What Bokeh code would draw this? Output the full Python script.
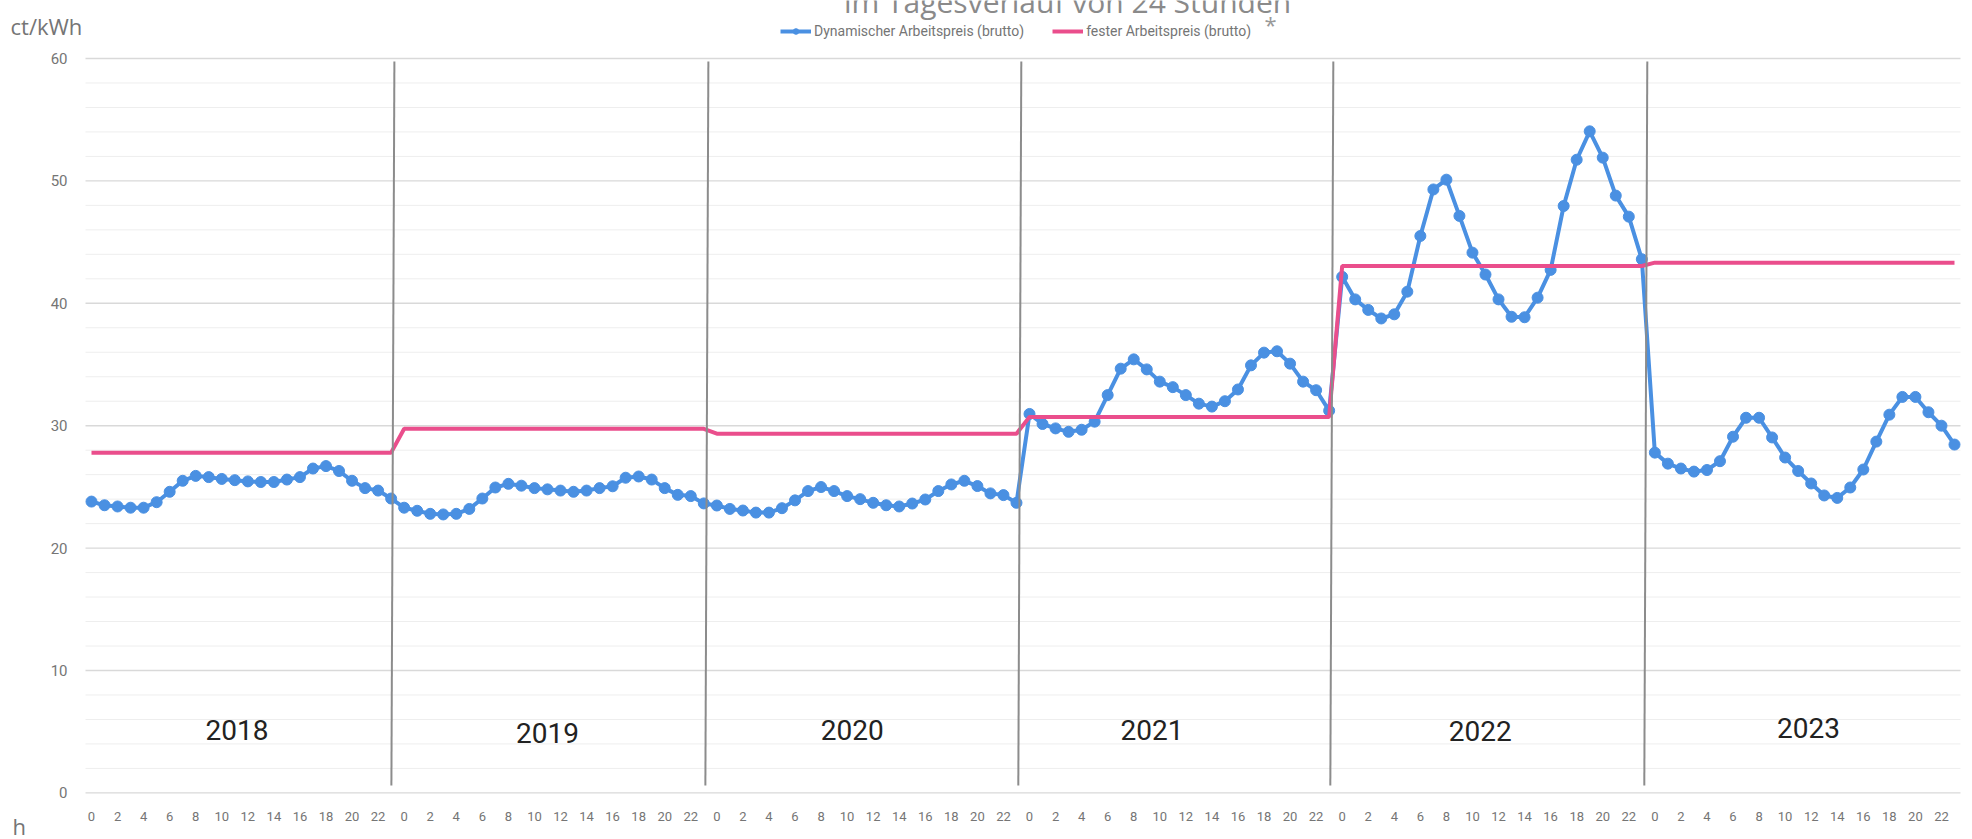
from bokeh.plotting import figure
from bokeh.models import Range1d, FixedTicker, Label, Legend, LegendItem, ColumnDataSource
from bokeh.embed import file_html
from bokeh.resources import INLINE
from bokeh.core.properties import value

# ---------------- data ----------------
years = ["2018", "2019", "2020", "2021", "2022", "2023"]
hour_labels = [str(h) for h in range(0, 24, 2)]
y_ticks = [0, 10, 20, 30, 40, 50, 60]

dyn_2018 = [23.8, 23.5, 23.4, 23.3, 23.3, 23.75, 24.6, 25.5, 25.9, 25.8, 25.65, 25.55,
            25.45, 25.4, 25.4, 25.6, 25.8, 26.5, 26.7, 26.3, 25.5, 24.9, 24.7, 24.05]
dyn_2019 = [23.3, 23.05, 22.8, 22.75, 22.8, 23.2, 24.05, 24.95, 25.25, 25.1, 24.9, 24.8,
            24.7, 24.6, 24.7, 24.9, 25.05, 25.75, 25.85, 25.6, 24.9, 24.35, 24.25, 23.65]
dyn_2020 = [23.48, 23.2, 23.07, 22.9, 22.9, 23.26, 23.9, 24.66, 24.99, 24.66, 24.25, 24.0,
            23.7, 23.5, 23.4, 23.64, 23.97, 24.66, 25.2, 25.5, 25.07, 24.47, 24.33, 23.7]
dyn_2021 = [30.96, 30.14, 29.78, 29.5, 29.67, 30.33, 32.5, 34.66, 35.42, 34.6, 33.6, 33.15,
            32.5, 31.8, 31.56, 32.0, 32.96, 34.93, 35.97, 36.08, 35.07, 33.6, 32.9, 31.23]
dyn_2022 = [42.16, 40.32, 39.46, 38.76, 39.1, 40.95, 45.5, 49.3, 50.1, 47.14, 44.14, 42.35,
            40.32, 38.9, 38.86, 40.46, 42.73, 47.95, 51.73, 54.05, 51.9, 48.8, 47.08, 43.6]
dyn_2023 = [27.8, 26.9, 26.5, 26.25, 26.38, 27.1, 29.1, 30.65, 30.65, 29.04, 27.4, 26.3,
            25.28, 24.3, 24.1, 24.95, 26.42, 28.7, 30.9, 32.35, 32.35, 31.1, 30.0, 28.46]
fixed_price = [27.8, 29.75, 29.35, 30.72, 43.05, 43.32]   # flat per year

# ---------------- layout ----------------
W, H = 1972, 839
PXU = 13.028          # px per hour
PYU = 12.24           # px per ct/kWh
AREA_L_PX = 85        # left edge of the plotting area (px)
ZERO_PX = 792.4       # vertical position of the 0 line (px)
X0 = -0.46            # data x at left edge of plotting area
X1 = 143.46           # data x at right edge of plotting area

def xd(px):
    return X0 + (px - AREA_L_PX) / PXU

def yd(py):
    return (ZERO_PX - py) / PYU

dyn_years = [dyn_2018, dyn_2019, dyn_2020, dyn_2021, dyn_2022, dyn_2023]
xs, dyn, fix = [], [], []
for k, (vals, fp) in enumerate(zip(dyn_years, fixed_price)):
    for h, v in enumerate(vals):
        xs.append(k * 24 + h)
        dyn.append(v)
        fix.append(fp)
src = ColumnDataSource(dict(x=xs, dyn=dyn, fix=fix))

BLUE = "#4A90E2"
PINK = "#EA4E8C"
GRAY_TXT = "#757575"

p = figure(width=W, height=H, output_backend="svg", toolbar_location=None,
           x_range=Range1d(xd(0), xd(W)), y_range=Range1d(yd(H), yd(0)),
           min_border_left=0, min_border_right=0, min_border_top=0, min_border_bottom=0)
p.outline_line_color = None
p.background_fill_color = "white"
p.border_fill_color = "white"
p.xgrid.visible = False
p.ygrid.visible = False

# axes drawn at fixed positions inside the canvas
p.yaxis.fixed_location = X0
p.yaxis.ticker = FixedTicker(ticks=y_ticks)
p.yaxis.axis_line_color = None
p.yaxis.major_tick_line_color = None
p.yaxis.minor_tick_line_color = None
p.yaxis.major_label_standoff = 12
p.yaxis.major_label_text_font = "Roboto"
p.yaxis.major_label_text_font_size = "15px"
p.yaxis.major_label_text_color = GRAY_TXT

xticks = list(range(0, len(xs), 2))
p.xaxis.fixed_location = 0
p.xaxis.ticker = FixedTicker(ticks=xticks)
p.xaxis.major_label_overrides = {i: hour_labels[(i % 24) // 2] for i in xticks}
p.xaxis.axis_line_color = None
p.xaxis.major_tick_line_color = None
p.xaxis.minor_tick_line_color = None
p.xaxis.major_label_standoff = 13
p.xaxis.major_label_text_font = "Roboto"
p.xaxis.major_label_text_font_size = "13px"
p.xaxis.major_label_text_color = GRAY_TXT

# horizontal grid lines across the plotting area only
minor_y = [v for v in range(0, 61, 2) if v % 10 != 0]
p.segment(x0=[X0] * len(minor_y), x1=[X1] * len(minor_y), y0=minor_y, y1=minor_y,
          line_color="#eeeeee", line_width=1)
p.segment(x0=[X0] * len(y_ticks), x1=[X1] * len(y_ticks), y0=y_ticks, y1=y_ticks,
          line_color="#d9d9d9", line_width=1.4)

# series
dyn_line = p.line("x", "dyn", source=src, line_color=BLUE, line_width=4)
dyn_pts = p.scatter("x", "dyn", source=src, size=11, fill_color=BLUE, line_color=BLUE)
fix_line = p.line("x", "fix", source=src, line_color=PINK, line_width=4)

# year separators (slightly tilted, hand drawn in original)
sep_offsets = [0.02, 0.12, 0.14, 0.09, 0.19]
sep_x0 = [(k + 1) * 24 - 1 + d for k, d in enumerate(sep_offsets)]
sep_x1 = [x + 0.23 for x in sep_x0]
sep_src = ColumnDataSource(dict(x0=sep_x0, x1=sep_x1, y0=[0.6] * 5, y1=[59.75] * 5))
p.segment("x0", "y0", "x1", "y1", source=sep_src, line_color="#8c8c8c", line_width=2)

# year labels
year_label_x = [11.17, 35.0, 58.4, 81.4, 106.6, 131.8]
year_label_y = [5.1, 4.9, 5.1, 5.1, 5.05, 5.3]
ysrc = ColumnDataSource(dict(x=year_label_x, y=year_label_y, t=years))
p.text("x", "y", text="t", source=ysrc, text_align="center", text_baseline="middle",
       text_font=value("Roboto"), text_font_size="28px", text_color="#222222")

# legend
legend = Legend(items=[
    LegendItem(label="Dynamischer Arbeitspreis (brutto)", renderers=[dyn_line, dyn_pts]),
    LegendItem(label="fester Arbeitspreis (brutto)", renderers=[fix_line]),
], orientation="horizontal", location=(778, H - 41), padding=2, spacing=28,
    glyph_width=31, glyph_height=14, label_standoff=3, label_height=14, label_width=10,
    label_text_font="Roboto", label_text_font_size="14px",
    label_text_color=GRAY_TXT, background_fill_alpha=0, border_line_alpha=0)
p.add_layout(legend)

# texts around the chart
p.add_layout(Label(x=xd(1067), y=yd(1), text="im Tagesverlauf von 24 Stunden",
                   text_align="center", text_baseline="alphabetic", text_font="Open Sans",
                   text_font_size="30px", text_color="#8a8a8a"))
p.add_layout(Label(x=xd(10), y=yd(25), text="ct/kWh", text_align="left", text_baseline="middle",
                   text_font="Open Sans", text_font_size="22px", text_color=GRAY_TXT))
p.add_layout(Label(x=xd(12), y=yd(825), text="h", text_align="left", text_baseline="middle",
                   text_font="Open Sans", text_font_size="22px", text_color=GRAY_TXT))
p.add_layout(Label(x=xd(1270), y=yd(23), text="*", text_align="center", text_baseline="middle",
                   text_font="Open Sans", text_font_size="22px", text_color="#999999"))

open("out.html", "w").write(file_html(p, INLINE))
